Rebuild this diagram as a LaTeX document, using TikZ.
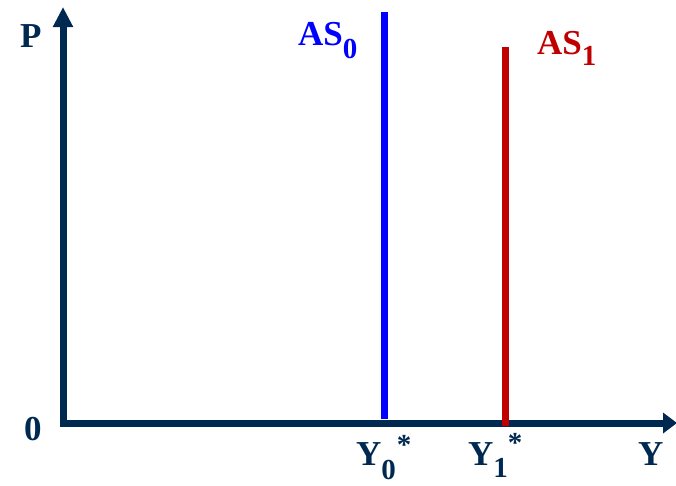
\documentclass[tikz,border=0pt]{standalone}
\usepackage{fontspec}
\setmainfont{Liberation Serif}
\usetikzlibrary{arrows.meta}
\definecolor{axisblue}{RGB}{0,41,82}
\definecolor{asblue}{RGB}{0,0,255}
\definecolor{asred}{RGB}{192,0,0}
\newcommand{\mainsz}{\fontsize{35}{35}\selectfont\bfseries}
\newcommand{\subsz}{\fontsize{29}{29}\selectfont\bfseries}
\tikzset{
  axisline/.style={draw=axisblue, line width=7pt, -{Triangle[length=20pt,width=19pt]}},
  asline/.style={line width=7pt},
  lbl/.style={inner sep=0pt, anchor=base west, font=\mainsz}
}
\begin{document}
\begin{tikzpicture}[x=1pt,y=-1pt]
\useasboundingbox (0,0) rectangle (676,485);
% axes
\coordinate (origin) at (63,423);
\coordinate (ytop) at (63,7);
\coordinate (xend) at (677,423);
\draw[axisline, line cap=butt] (63,426.5) -- (ytop);
\draw[axisline, -{Triangle[length=14pt,width=20pt]}] (59.5,423) -- (xend);
% AS curves
\coordinate (as0top) at (384.5,12);
\coordinate (as0bot) at (384.5,419);
\coordinate (as1top) at (505.5,47);
\coordinate (as1bot) at (505.5,426);
\draw[asline, asblue] (as0top) -- (as0bot);
\draw[asline, asred] (as1top) -- (as1bot);
% labels
\node[lbl, text=axisblue] (P) at (20,47) {P};
\node[lbl, text=axisblue] (zero) at (24,440) {0};
\node[lbl, text=axisblue] (Y) at (638,465) {Y};
\node[lbl, text=asblue] (AS0) at (298,45) {AS\raisebox{-13pt}{\subsz 0}};
\node[lbl, text=asred] (AS1) at (537,54) {AS\raisebox{-11pt}{\subsz 1}};
\node[lbl, text=axisblue] (Y0) at (356,465) {Y\raisebox{-14pt}{\subsz 0}\kern1pt\raisebox{11pt}{\subsz *}};
\node[lbl, text=axisblue] (Y1) at (468,465) {Y\raisebox{-12pt}{\subsz 1}\raisebox{13pt}{\subsz *}};
\end{tikzpicture}
\end{document}
